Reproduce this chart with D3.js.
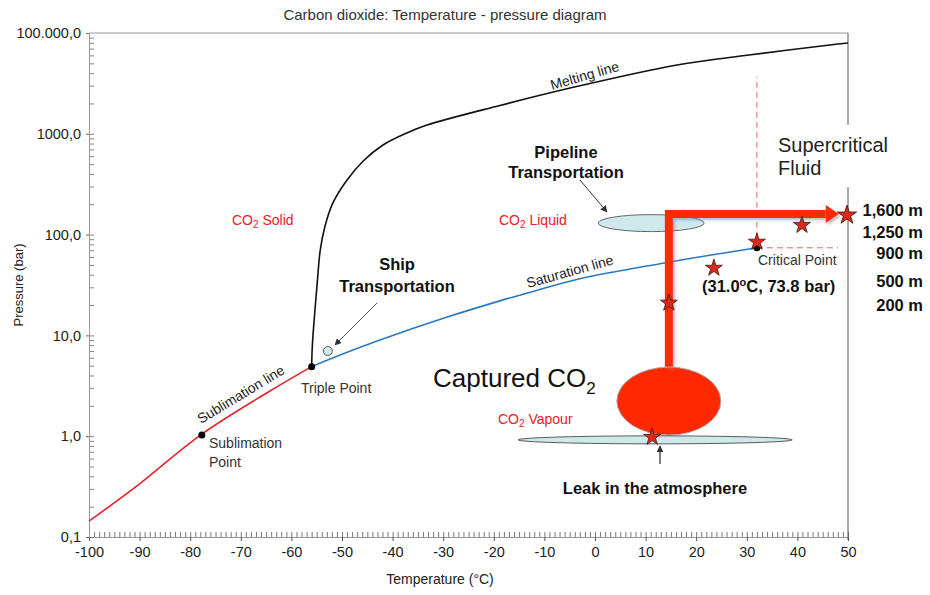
<!DOCTYPE html>
<html>
<head>
<meta charset="utf-8">
<script src="https://cdn.jsdelivr.net/npm/d3@7"></script>
<style>
  body { margin: 0; background: #fff; }
  text { font-family: "Liberation Sans", Arial, Helvetica, sans-serif; }
</style>
</head>
<body>
<script>
// values: temperature (°C) and pressure (bar)
var sublimationT = [-100, -91.3, -77.7, -64.8, -56];
var sublimationP = [0.144, 0.30, 1.05, 2.7, 4.9];

var saturationT = [-56, -50, -42.5, -29.2, -18.8, -13.4, -3.0, 13.4, 23.3, 32];
var saturationP = [4.9, 6.5, 9.0, 15.2, 22.0, 26.3, 36.5, 52, 63, 74];

var meltingT = [-56, -55.9, -55.7, -54.9, -54.3, -53.4, -51.8, -49, -45.8, -41.9, -37.2, -33.2, -19, -4.9, 16.2, 30.4, 48, 50];
var meltingP = [4.9, 7.2, 10.6, 33, 70, 119, 206, 348, 537, 774, 1019, 1222, 1900, 2845, 4820, 6050, 7770, 7950];

var pointNames = ["Sublimation", "Triple", "Critical"];
var pointT = [-77.7, -56, 32];
var pointP = [1.03, 4.9, 74];

var starT = [49.8, 40.9, 32.0, 23.5, 14.6, 11.3];
var starP = [156, 124, 84.5, 46.6, 21, 0.98];

// transport route (thick red arrow)
var routeT = [14.6, 14.6, 45.6];
var routeP = [4.9, 160, 160];
var routeTipT = 48.2;

// critical point guide lines
var guideTopP = 3700;
var guideEndT = 48;

var xTicks = [-100, -90, -80, -70, -60, -50, -40, -30, -20, -10, 0, 10, 20, 30, 40, 50];
var yTicks = [0.1, 1, 10, 100, 1000, 10000];
var yTickLabels = ["0,1", "1,0", "10,0", "100,0", "1000,0", "100.000,0"];

var depthLabels = ["1,600 m", "1,250 m", "900 m", "500 m", "200 m"];

var width = 930, height = 595;
var svg = d3.select("body").append("svg")
  .attr("width", width)
  .attr("height", height);

var x = d3.scaleLinear().domain([-100, 50]).range([89, 848]);
var y = d3.scaleLog().domain([0.1, 10000]).range([537, 33]);

var defs = svg.append("defs");
defs.append("filter").attr("id", "shadow")
  .attr("x", "-20%").attr("y", "-20%").attr("width", "140%").attr("height", "140%")
  .append("feDropShadow")
  .attr("dx", 2).attr("dy", 2).attr("stdDeviation", 1.5)
  .attr("flood-color", "#888").attr("flood-opacity", 0.6);
defs.append("marker").attr("id", "arr")
  .attr("viewBox", "0 0 10 10").attr("refX", 9).attr("refY", 5)
  .attr("markerWidth", 7).attr("markerHeight", 7)
  .attr("markerUnits", "userSpaceOnUse")
  .attr("orient", "auto")
  .append("path").attr("d", "M0,0L10,5L0,10z").attr("fill", "#333");

// title
svg.append("text")
  .attr("x", 445).attr("y", 20)
  .attr("text-anchor", "middle")
  .attr("font-size", 15)
  .attr("fill", "#333")
  .text("Carbon dioxide: Temperature - pressure diagram");

// axes
var xMinor = d3.range(-100, 51, 1);
svg.append("g")
  .attr("transform", "translate(0," + y.range()[0] + ")")
  .call(d3.axisBottom(x).tickValues(xMinor).tickSize(-5).tickFormat(""))
  .call(function(g) {
    g.select(".domain").remove();
    g.selectAll("line").attr("stroke", "#555").attr("stroke-width", 0.8);
  });
svg.append("g")
  .attr("class", "x-axis")
  .attr("transform", "translate(0," + y.range()[0] + ")")
  .call(d3.axisBottom(x).tickValues(xTicks).tickSize(4).tickPadding(6).tickSizeOuter(0)
    .tickFormat(function(d) { return String(d); }))
  .call(function(g) {
    g.select(".domain").attr("stroke", "#999");
    g.selectAll("line").attr("stroke", "#555");
    g.selectAll("text").attr("font-size", 14.5).attr("fill", "#222")
      .attr("font-family", "'Liberation Sans', Arial, sans-serif");
  });

var yMinor = [];
yTicks.slice(0, -1).forEach(function(d) {
  for (var k = 1; k <= 9; k++) yMinor.push(d * k);
});
svg.append("g")
  .attr("transform", "translate(" + x.range()[0] + ",0)")
  .call(d3.axisLeft(y).tickValues(yMinor).tickSize(-5).tickFormat(""))
  .call(function(g) {
    g.select(".domain").remove();
    g.selectAll("line").attr("stroke", "#666").attr("stroke-width", 0.8);
  });
svg.append("g")
  .attr("class", "y-axis")
  .attr("transform", "translate(" + x.range()[0] + ",0)")
  .call(d3.axisLeft(y).tickValues(yTicks).tickSize(3).tickPadding(5).tickSizeOuter(0)
    .tickFormat(function(d, i) { return yTickLabels[i]; }))
  .call(function(g) {
    g.select(".domain").attr("stroke", "#999");
    g.selectAll("line").attr("stroke", "#666");
    g.selectAll("text").attr("font-size", 14.5).attr("fill", "#222")
      .attr("font-family", "'Liberation Sans', Arial, sans-serif");
  });

// frame: top and right (right side broken by the Supercritical label)
svg.append("line")
  .attr("x1", x(-100)).attr("x2", x(50)).attr("y1", y(10000)).attr("y2", y(10000))
  .attr("stroke", "#999");
svg.append("line")
  .attr("x1", x(50)).attr("x2", x(50)).attr("y1", y(10000)).attr("y2", 125)
  .attr("stroke", "#555");
svg.append("line")
  .attr("x1", x(50)).attr("x2", x(50)).attr("y1", 187).attr("y2", y(0.1) + 3)
  .attr("stroke", "#555");

// axis titles
svg.append("text")
  .attr("transform", "translate(23,285) rotate(-90)")
  .attr("text-anchor", "middle")
  .attr("font-size", 13)
  .attr("fill", "#222")
  .text("Pressure (bar)");
svg.append("text")
  .attr("x", 440).attr("y", 584)
  .attr("text-anchor", "middle")
  .attr("font-size", 14)
  .attr("fill", "#222")
  .text("Temperature (°C)");

// phase lines
function pairs(ts, ps) {
  return ts.map(function(t, i) { return [t, ps[i]]; });
}
var line = d3.line()
  .x(function(d) { return x(d[0]); })
  .y(function(d) { return y(d[1]); })
  .curve(d3.curveCatmullRom.alpha(0.5));

svg.append("path")
  .datum(pairs(sublimationT, sublimationP))
  .attr("d", line)
  .attr("fill", "none").attr("stroke", "#e8202a").attr("stroke-width", 1.6);
svg.append("path")
  .datum(pairs(saturationT, saturationP))
  .attr("d", line)
  .attr("fill", "none").attr("stroke", "#2a78c2").attr("stroke-width", 1.6);
svg.append("path")
  .datum(pairs(meltingT, meltingP))
  .attr("d", line)
  .attr("fill", "none").attr("stroke", "#111").attr("stroke-width", 1.6);

// critical point guides
var cT = pointT[2], cP = pointP[2];
svg.append("line")
  .attr("x1", x(cT)).attr("x2", x(cT)).attr("y1", y(cP)).attr("y2", y(guideTopP))
  .attr("stroke", "#e06a5a").attr("stroke-dasharray", "6,4");
svg.append("line")
  .attr("x1", x(cT)).attr("x2", x(guideEndT)).attr("y1", y(cP)).attr("y2", y(cP))
  .attr("stroke", "#e06a5a").attr("stroke-dasharray", "6,4");

// pipeline / vapour ellipses and captured CO2 blob
svg.append("ellipse")
  .attr("cx", x(11.1)).attr("cy", y(130)).attr("rx", 53).attr("ry", 8.5)
  .attr("fill", "#cfe8ec").attr("stroke", "#444").attr("stroke-width", 0.8);
svg.append("ellipse")
  .attr("cx", x(14.6)).attr("cy", y(2.23)).attr("rx", 52).attr("ry", 34)
  .attr("fill", "#ff2800").attr("stroke", "#aaa").attr("stroke-width", 1);
svg.append("ellipse")
  .attr("cx", x(11.9)).attr("cy", y(0.92)).attr("rx", 137).attr("ry", 4)
  .attr("fill", "#cfe8ec").attr("stroke", "#333").attr("stroke-width", 0.8);

// route arrow
var route = pairs(routeT, routeP);
var g = svg.append("g").attr("filter", "url(#shadow)");
g.append("path")
  .attr("d", d3.line().x(function(d) { return x(d[0]); }).y(function(d) { return y(d[1]); })(route))
  .attr("fill", "none").attr("stroke", "#ff2a00").attr("stroke-width", 8);
var tipY = y(routeP[2]);
g.append("path")
  .attr("d", "M" + x(routeT[2]) + "," + (tipY - 9) + "L" + x(routeTipT) + "," + tipY +
    "L" + x(routeT[2]) + "," + (tipY + 9) + "Z")
  .attr("fill", "#ff2a00");

// ship circle
svg.append("circle")
  .attr("cx", x(-52.8)).attr("cy", y(7.0)).attr("r", 4.5)
  .attr("fill", "#cfe8ec").attr("stroke", "#333").attr("stroke-width", 0.8);

// notable points
svg.selectAll(".pt")
  .data(pointT)
  .enter().append("circle")
  .attr("class", "pt")
  .attr("cx", function(d) { return x(d); })
  .attr("cy", function(d, i) { return y(pointP[i]); })
  .attr("r", 3.5)
  .attr("fill", "#000");

// stars
svg.selectAll(".star")
  .data(starT)
  .enter().append("path")
  .attr("class", "star")
  .attr("transform", function(d, i) { return "translate(" + x(d) + "," + y(starP[i]) + ")"; })
  .attr("d", function(d, i) { return d3.symbol(d3.symbolStar, i === 0 ? 115 : 90)(); })
  .attr("fill", "#d82a1c")
  .attr("stroke", "#4a1008")
  .attr("stroke-width", 0.8);

// pointer arrows
function pointer(x1, y1, x2, y2, col) {
  svg.append("line")
    .attr("x1", x1).attr("y1", y1).attr("x2", x2).attr("y2", y2)
    .attr("stroke", col).attr("stroke-width", 1)
    .attr("marker-end", "url(#arr)");
}
pointer(580, 180, 607, 212, "#333");
pointer(377, 303, 335, 345, "#555");
pointer(660, 464, 660, 446, "#000");

// labels
function label(txt, lx, ly, size, opts) {
  opts = opts || {};
  return svg.append("text")
    .attr("x", lx).attr("y", ly)
    .attr("font-size", size)
    .attr("font-weight", opts.bold ? "bold" : null)
    .attr("text-anchor", opts.anchor || "start")
    .attr("fill", opts.fill || "#333")
    .text(txt);
}
function co2Label(lx, ly, rest) {
  var t = svg.append("text").attr("x", lx).attr("y", ly)
    .attr("font-size", 14).attr("fill", "#e8202a");
  t.append("tspan").text("CO");
  t.append("tspan").attr("font-size", 10).attr("dy", 3).text("2");
  t.append("tspan").attr("dy", -3).text(" " + rest);
}
co2Label(232, 225, "Solid");
co2Label(499, 225, "Liquid");
co2Label(498, 424, "Vapour");

var cap = svg.append("text").attr("x", 433).attr("y", 387)
  .attr("font-size", 26).attr("fill", "#111");
cap.append("tspan").text("Captured CO");
cap.append("tspan").attr("font-size", 17).attr("dy", 7).text("2");

label("Pipeline", 566, 158, 16.5, { bold: true, anchor: "middle", fill: "#111" });
label("Transportation", 566, 178, 16.5, { bold: true, anchor: "middle", fill: "#111" });
label("Ship", 397, 270, 16.5, { bold: true, anchor: "middle", fill: "#111" });
label("Transportation", 397, 292, 16.5, { bold: true, anchor: "middle", fill: "#111" });
label("Supercritical", 778, 152, 20, { fill: "#222" });
label("Fluid", 778, 175, 20, { fill: "#222" });
label("Critical Point", 758, 265, 14);
label("Triple Point", 301, 393, 14);
label("Sublimation", 209, 448, 14);
label("Point", 209, 467, 14);
label("Leak in the atmosphere", 655, 494, 16.5, { bold: true, anchor: "middle", fill: "#111" });

var cp = svg.append("text").attr("x", 702).attr("y", 292)
  .attr("font-size", 16.5).attr("font-weight", "bold").attr("fill", "#111");
cp.append("tspan").text("(31.0");
cp.append("tspan").attr("font-size", 11).attr("dy", -6).text("o");
cp.append("tspan").attr("dy", 6).text("C, 73.8 bar)");

depthLabels.forEach(function(d, i) {
  label(d, 923, [216, 238, 259, 287, 311][i], 16.5, { bold: true, anchor: "end", fill: "#111" });
});

// line names along the curves
function slanted(txt, lx, ly, ang) {
  svg.append("text")
    .attr("transform", "translate(" + lx + "," + ly + ") rotate(" + ang + ")")
    .attr("font-size", 14)
    .attr("fill", "#222")
    .text(txt);
}
slanted("Melting line", 552, 90, -16);
slanted("Saturation line", 528, 288, -15.5);
slanted("Sublimation line", 201, 424, -31);
</script>
</body>
</html>
